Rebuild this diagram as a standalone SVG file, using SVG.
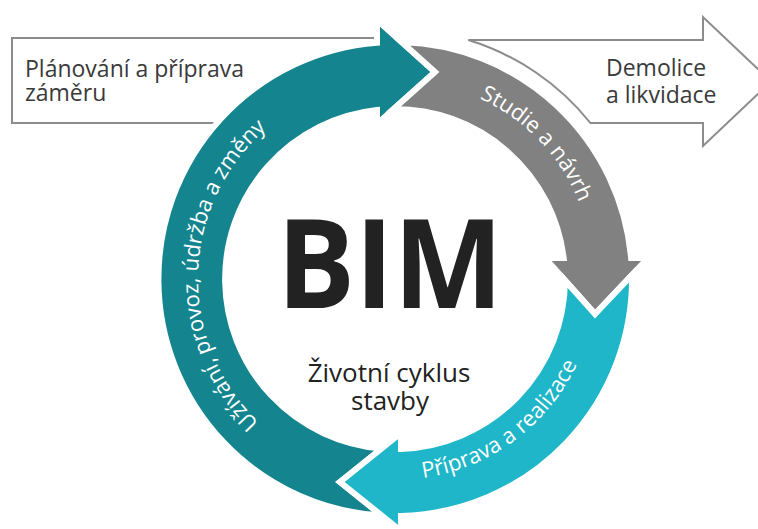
<svg xmlns="http://www.w3.org/2000/svg" width="758" height="529" viewBox="0 0 758 529">
<style>
.box{fill:#fff;stroke:#8c8c8c;stroke-width:2}
.boxt{font-family:"Open Sans","Noto Sans",sans-serif;font-size:23px;fill:#3a3a3a}
.arr{stroke:#fff;stroke-width:6;stroke-linejoin:miter}
.arct{font-family:"Open Sans","Noto Sans",sans-serif;font-size:22px;fill:#fff}
.ctr{font-family:"Open Sans","Noto Sans",sans-serif;fill:#222;text-anchor:middle}
</style>
<defs>
<path id="pTeal" d="M 291.5 447.8 A 199 199 0 0 1 300.5 105.0" fill="none"/>
<path id="pGray" d="M 382.2 81.4 A 195 195 0 0 1 591.8 300.7" fill="none"/>
<path id="pCyan" d="M 314.9 463.3 A 201 201 0 0 0 594.7 256.2" fill="none"/>
</defs>
<g id="node-planning">
<path class="box" d="M 12 38 H 378 V 60 L 260 123 H 12 Z"/>
<text class="boxt" x="25" y="77">Plánování a příprava</text>
<text class="boxt" x="25" y="101">záměru</text>
</g>
<g id="node-demolition">
<path class="box" d="M 468.3 40 H 703 V 17 L 771 81.5 L 703 146 V 123 H 590.4 A 250 250 0 0 0 468.3 40 Z"/>
<text class="boxt" x="606" y="76">Demolice</text>
<text class="boxt" x="606" y="103">a likvidace</text>
</g>
<g id="connectors">
<g id="arrow-use">
<path class="arr" fill="#14858E" d="M 381.9 515.6 A 237 237 0 0 1 377 42.7 L 377 20 L 435 72 L 377 124 L 377 110 A 170 170 0 0 0 381.7 448.5 L 340 482 Z"/>
<text class="arct"><textPath href="#pTeal" startOffset="50%" text-anchor="middle">Užívání, provoz, údržba a změny</textPath></text>
</g>
<g id="arrow-study">
<path class="arr" fill="#818181" d="M 401.6 42.1 A 237 237 0 0 1 631.1 258 L 648 258 L 595 314 L 545 258 L 563.7 258 A 170 170 0 0 0 393.7 109.0 L 435 72 Z"/>
<text class="arct"><textPath href="#pGray" startOffset="50%" text-anchor="middle">Studie a návrh</textPath></text>
</g>
<g id="arrow-build">
<path class="arr" fill="#1EB6C8" d="M 632.0 274.9 A 237 237 0 0 1 401 515.9 L 401 531 L 340 482 L 401 433 L 401 448.9 A 170 170 0 0 0 565.0 280.4 L 595 314 Z"/>
<text class="arct"><textPath href="#pCyan" startOffset="50%" text-anchor="middle">Příprava a realizace</textPath></text>
</g>
</g>
<g id="node-center">
<text class="ctr" x="390" y="308" font-size="124" font-weight="700" textLength="226" lengthAdjust="spacingAndGlyphs">BIM</text>
<text class="ctr" x="389" y="382" font-size="26">Životní cyklus</text>
<text class="ctr" x="390" y="410" font-size="26">stavby</text>
</g>
</svg>
